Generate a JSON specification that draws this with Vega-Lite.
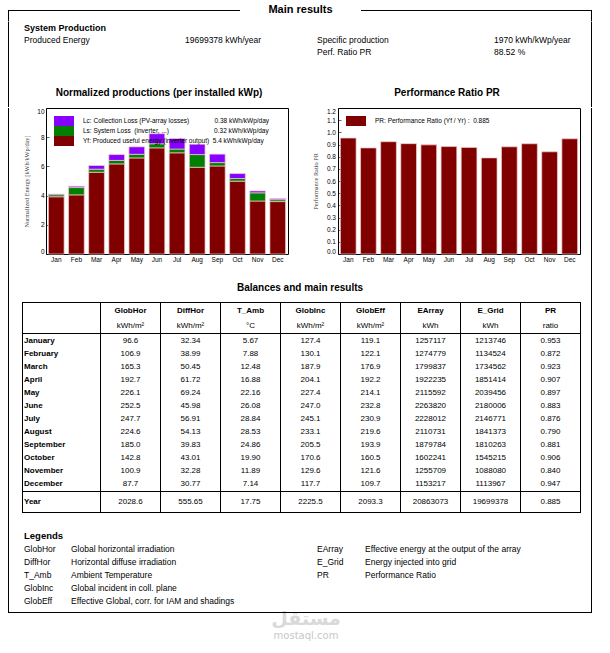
{
"$schema": "https://vega.github.io/schema/vega-lite/v6.json",
"padding": {"left": 7, "top": 4, "right": 0, "bottom": 0},
"background": "white",
"config": {
  "font": "Liberation Sans",
  "view": {"stroke": null},
  "text": {"font": "Liberation Sans", "color": "black", "fontSize": 8, "baseline": "middle"},
  "axis": {"labelFont": "Liberation Sans", "labelColor": "black", "labelFontSize": 6.5, "titleFont": "Liberation Serif", "titleFontWeight": "normal", "titleColor": "#444444", "titleFontSize": 6.3, "tickColor": "black", "tickWidth": 0.6, "domain": false, "grid": false, "labelOverlap": false},
  "legend": {"labelFont": "Liberation Sans", "labelColor": "black", "labelFontSize": 6.5},
  "title": {"font": "Liberation Sans", "fontSize": 10, "fontWeight": "bold", "color": "black"}
},
"datasets": {
  "one": [{}],
  "none": [],
  "summary": [
    {"row": 1, "col": "c1", "t": "System Production"},
    {"row": 2, "col": "c1", "t": "Produced Energy"},
    {"row": 2, "col": "c2", "t": "19699378 kWh/year"},
    {"row": 2, "col": "c3", "t": "Specific production"},
    {"row": 2, "col": "c4", "t": "1970 kWh/kWp/year"},
    {"row": 3, "col": "c3", "t": "Perf. Ratio PR"},
    {"row": 3, "col": "c4", "t": "88.52 %"}
  ],
  "norm": [
    {"month": "Jan", "Yf": 3.92, "Ls": 0.14, "Lc": 0.05},
    {"month": "Feb", "Yf": 4.05, "Ls": 0.50, "Lc": 0.09},
    {"month": "Mar", "Yf": 5.60, "Ls": 0.21, "Lc": 0.25},
    {"month": "Apr", "Yf": 6.17, "Ls": 0.24, "Lc": 0.40},
    {"month": "May", "Yf": 6.58, "Ls": 0.25, "Lc": 0.51},
    {"month": "Jun", "Yf": 7.27, "Ls": 0.28, "Lc": 0.69},
    {"month": "Jul", "Yf": 6.93, "Ls": 0.26, "Lc": 0.72},
    {"month": "Aug", "Yf": 5.94, "Ls": 0.87, "Lc": 0.71},
    {"month": "Sep", "Yf": 6.03, "Ls": 0.23, "Lc": 0.58},
    {"month": "Oct", "Yf": 4.99, "Ls": 0.18, "Lc": 0.34},
    {"month": "Nov", "Yf": 3.63, "Ls": 0.56, "Lc": 0.13},
    {"month": "Dec", "Yf": 3.59, "Ls": 0.13, "Lc": 0.08}
  ],
  "pr": [
    {"month": "Jan", "PR": 0.953}, {"month": "Feb", "PR": 0.872}, {"month": "Mar", "PR": 0.923},
    {"month": "Apr", "PR": 0.907}, {"month": "May", "PR": 0.897}, {"month": "Jun", "PR": 0.883},
    {"month": "Jul", "PR": 0.876}, {"month": "Aug", "PR": 0.790}, {"month": "Sep", "PR": 0.881},
    {"month": "Oct", "PR": 0.906}, {"month": "Nov", "PR": 0.840}, {"month": "Dec", "PR": 0.947}
  ],
  "cols": [
    {"col": "GlobHor", "name": "GlobHor", "unit": "kWh/m²"},
    {"col": "DiffHor", "name": "DiffHor", "unit": "kWh/m²"},
    {"col": "T_Amb", "name": "T_Amb", "unit": "°C"},
    {"col": "GlobInc", "name": "GlobInc", "unit": "kWh/m²"},
    {"col": "GlobEff", "name": "GlobEff", "unit": "kWh/m²"},
    {"col": "EArray", "name": "EArray", "unit": "kWh"},
    {"col": "E_Grid", "name": "E_Grid", "unit": "kWh"},
    {"col": "PR", "name": "PR", "unit": "ratio"}
  ],
  "months": [
    {"Month": "January", "GlobHor": "96.6", "DiffHor": "32.34", "T_Amb": "5.67", "GlobInc": "127.4", "GlobEff": "119.1", "EArray": "1257117", "E_Grid": "1213746", "PR": "0.953"},
    {"Month": "February", "GlobHor": "106.9", "DiffHor": "38.99", "T_Amb": "7.88", "GlobInc": "130.1", "GlobEff": "122.1", "EArray": "1274779", "E_Grid": "1134524", "PR": "0.872"},
    {"Month": "March", "GlobHor": "165.3", "DiffHor": "50.45", "T_Amb": "12.48", "GlobInc": "187.9", "GlobEff": "176.9", "EArray": "1799837", "E_Grid": "1734562", "PR": "0.923"},
    {"Month": "April", "GlobHor": "192.7", "DiffHor": "61.72", "T_Amb": "16.88", "GlobInc": "204.1", "GlobEff": "192.2", "EArray": "1922235", "E_Grid": "1851414", "PR": "0.907"},
    {"Month": "May", "GlobHor": "226.1", "DiffHor": "69.24", "T_Amb": "22.16", "GlobInc": "227.4", "GlobEff": "214.1", "EArray": "2115592", "E_Grid": "2039456", "PR": "0.897"},
    {"Month": "June", "GlobHor": "252.5", "DiffHor": "45.98", "T_Amb": "26.08", "GlobInc": "247.0", "GlobEff": "232.8", "EArray": "2263820", "E_Grid": "2180006", "PR": "0.883"},
    {"Month": "July", "GlobHor": "247.7", "DiffHor": "56.91", "T_Amb": "28.84", "GlobInc": "245.1", "GlobEff": "230.9", "EArray": "2228012", "E_Grid": "2146771", "PR": "0.876"},
    {"Month": "August", "GlobHor": "224.6", "DiffHor": "54.13", "T_Amb": "28.53", "GlobInc": "233.1", "GlobEff": "219.6", "EArray": "2110731", "E_Grid": "1841373", "PR": "0.790"},
    {"Month": "September", "GlobHor": "185.0", "DiffHor": "39.83", "T_Amb": "24.86", "GlobInc": "205.5", "GlobEff": "193.9", "EArray": "1879784", "E_Grid": "1810263", "PR": "0.881"},
    {"Month": "October", "GlobHor": "142.8", "DiffHor": "43.01", "T_Amb": "19.90", "GlobInc": "170.6", "GlobEff": "160.5", "EArray": "1602241", "E_Grid": "1545215", "PR": "0.906"},
    {"Month": "November", "GlobHor": "100.9", "DiffHor": "32.28", "T_Amb": "11.89", "GlobInc": "129.6", "GlobEff": "121.6", "EArray": "1255709", "E_Grid": "1088080", "PR": "0.840"},
    {"Month": "December", "GlobHor": "87.7", "DiffHor": "30.77", "T_Amb": "7.14", "GlobInc": "117.7", "GlobEff": "109.7", "EArray": "1153217", "E_Grid": "1113967", "PR": "0.947"}
  ],
  "year": [
    {"Month": "Year", "GlobHor": "2028.6", "DiffHor": "555.65", "T_Amb": "17.75", "GlobInc": "2225.5", "GlobEff": "2093.3", "EArray": "20863073", "E_Grid": "19699378", "PR": "0.885"}
  ],
  "legend": [
    {"row": 0, "side": "H", "abbr": "Legends"},
    {"row": 1, "side": "L", "abbr": "GlobHor", "desc": "Global horizontal irradiation"},
    {"row": 2, "side": "L", "abbr": "DiffHor", "desc": "Horizontal diffuse irradiation"},
    {"row": 3, "side": "L", "abbr": "T_Amb", "desc": "Ambient Temperature"},
    {"row": 4, "side": "L", "abbr": "GlobInc", "desc": "Global incident in coll. plane"},
    {"row": 5, "side": "L", "abbr": "GlobEff", "desc": "Effective Global, corr. for IAM and shadings"},
    {"row": 1, "side": "R", "abbr": "EArray", "desc": "Effective energy at the output of the array"},
    {"row": 2, "side": "R", "abbr": "E_Grid", "desc": "Energy injected into grid"},
    {"row": 3, "side": "R", "abbr": "PR", "desc": "Performance Ratio"}
  ]
},
"spacing": 0,
"resolve": {"scale": {"color": "independent"}, "legend": {"color": "independent"}},
"vconcat": [
  {"spacing": 0, "bounds": "flush", "hconcat": [
    {"width": 232, "height": 18, "data": {"name": "one"},
     "layer": [
       {"mark": {"type": "rule", "color": "black", "strokeWidth": 1},
        "encoding": {"y": {"datum": 0.63889, "type": "quantitative", "scale": {"domain": [0, 1]}, "axis": null}}},
       {"mark": {"type": "rule", "color": "black", "strokeWidth": 1},
        "encoding": {"x": {"datum": 0.002155, "type": "quantitative", "scale": {"domain": [0, 1]}, "axis": null},
                     "y": {"datum": 0.63889, "type": "quantitative", "scale": {"domain": [0, 1]}, "axis": null},
                     "y2": {"datum": 0.0278}}}
     ]},
    {"width": 121, "height": 18, "data": {"name": "one"},
     "mark": {"type": "text", "text": "Main results", "fontSize": 11, "fontWeight": "bold"},
     "encoding": {"y": {"datum": 0.63889, "type": "quantitative", "scale": {"domain": [0, 1]}, "axis": null}}},
    {"width": 231, "height": 18, "data": {"name": "one"},
     "layer": [
       {"mark": {"type": "rule", "color": "black", "strokeWidth": 1},
        "encoding": {"y": {"datum": 0.63889, "type": "quantitative", "scale": {"domain": [0, 1]}, "axis": null}}},
       {"mark": {"type": "rule", "color": "black", "strokeWidth": 1},
        "encoding": {"x": {"datum": 0.997835, "type": "quantitative", "scale": {"domain": [0, 1]}, "axis": null},
                     "y": {"datum": 0.63889, "type": "quantitative", "scale": {"domain": [0, 1]}, "axis": null},
                     "y2": {"datum": 0.0278}}}
     ]}
  ]},

  {"spacing": 0, "bounds": "flush", "hconcat": [
    {"width": 1, "height": 36, "data": {"name": "none"}, "mark": "point", "view": {"fill": "black"}},
    {"width": 15, "height": 36, "data": {"name": "none"}, "mark": "point"},
    {"width": 161, "height": 36, "data": {"name": "summary"}, "transform": [{"filter": "datum.col == 'c1'"}],
     "layer": [
       {"transform": [{"filter": "datum.row == 1"}], "mark": {"type": "text", "align": "left", "fontSize": 9, "fontWeight": "bold"},
        "encoding": {"x": {"value": 0}, "y": {"field": "row", "type": "ordinal", "scale": {"domain": [1, 2, 3]}, "axis": null}, "text": {"field": "t"}}},
       {"transform": [{"filter": "datum.row != 1"}], "mark": {"type": "text", "align": "left", "fontSize": 8.5},
        "encoding": {"x": {"value": 0}, "y": {"field": "row", "type": "ordinal", "scale": {"domain": [1, 2, 3]}, "axis": null}, "text": {"field": "t"}}}
     ]},
    {"width": 132, "height": 36, "data": {"name": "summary"}, "transform": [{"filter": "datum.col == 'c2'"}],
     "mark": {"type": "text", "align": "left", "fontSize": 8.5},
     "encoding": {"x": {"value": 0}, "y": {"field": "row", "type": "ordinal", "scale": {"domain": [1, 2, 3]}, "axis": null}, "text": {"field": "t"}}},
    {"width": 177, "height": 36, "data": {"name": "summary"}, "transform": [{"filter": "datum.col == 'c3'"}],
     "mark": {"type": "text", "align": "left", "fontSize": 8.5},
     "encoding": {"x": {"value": 0}, "y": {"field": "row", "type": "ordinal", "scale": {"domain": [1, 2, 3]}, "axis": null}, "text": {"field": "t"}}},
    {"width": 97, "height": 36, "data": {"name": "summary"}, "transform": [{"filter": "datum.col == 'c4'"}],
     "mark": {"type": "text", "align": "left", "fontSize": 8.5},
     "encoding": {"x": {"value": 0}, "y": {"field": "row", "type": "ordinal", "scale": {"domain": [1, 2, 3]}, "axis": null}, "text": {"field": "t"}}},
    {"width": 1, "height": 36, "data": {"name": "none"}, "mark": "point", "view": {"fill": "black"}}
  ]},

  {"spacing": 0, "bounds": "flush", "hconcat": [
    {"width": 1, "height": 49, "data": {"name": "none"}, "mark": "point", "view": {"fill": "black"}},
    {"width": 12, "height": 49, "data": {"name": "none"}, "mark": "point"},
    {"width": 276, "height": 49, "data": {"name": "one"},
     "mark": {"type": "text", "text": "Normalized productions (per installed kWp)", "fontSize": 10, "fontWeight": "bold"},
     "encoding": {"y": {"datum": 0.2857, "type": "quantitative", "scale": {"domain": [0, 1]}, "axis": null}}},
    {"width": 6, "height": 49, "data": {"name": "none"}, "mark": "point"},
    {"width": 288, "height": 49, "data": {"name": "one"},
     "mark": {"type": "text", "text": "Performance Ratio PR", "fontSize": 10, "fontWeight": "bold"},
     "encoding": {"y": {"datum": 0.2857, "type": "quantitative", "scale": {"domain": [0, 1]}, "axis": null}}},
    {"width": 1, "height": 49, "data": {"name": "none"}, "mark": "point", "view": {"fill": "black"}}
  ]},

  {"spacing": 0, "bounds": "flush",
   "resolve": {"scale": {"color": "independent"}, "legend": {"color": "independent"}},
   "hconcat": [
    {"width": 1, "height": 160, "data": {"name": "none"}, "mark": "point", "view": {"fill": "black"}},
    {"width": 37, "height": 146, "data": {"name": "none"}, "mark": "point"},
    {"width": 242, "height": 146, "view": {"stroke": "black", "strokeWidth": 1},
     "data": {"name": "norm"},
     "transform": [{"fold": ["Yf", "Ls", "Lc"], "as": ["comp", "val"]}],
     "mark": {"type": "bar", "stroke": "#f2cfcf", "strokeWidth": 0.7},
     "encoding": {
       "x": {"field": "month", "type": "ordinal", "sort": ["Jan", "Feb", "Mar", "Apr", "May", "Jun", "Jul", "Aug", "Sep", "Oct", "Nov", "Dec"],
             "scale": {"paddingInner": 0.22, "paddingOuter": 0.12},
             "axis": {"title": null, "labelAngle": 0, "tickSize": -3, "labelPadding": 5.5}},
       "y": {"field": "val", "type": "quantitative", "stack": "zero", "scale": {"domain": [0, 10], "nice": false},
             "axis": {"values": [0, 2, 4, 6, 8, 10], "title": "Normalized Energy [kWh/kWp/day]", "tickSize": -3, "labelPadding": 5, "titlePadding": 7, "labelFlush": true}},
       "color": {"field": "comp", "type": "nominal",
                 "scale": {"domain": ["Lc", "Ls", "Yf"], "range": ["#8800ff", "#008000", "#800000"]},
                 "legend": {"title": null, "orient": "top-left", "offset": 8, "padding": 0, "rowPadding": 0,
                            "symbolType": "M-2,-1H2V1H-2Z", "symbolSize": 100, "symbolOffset": 5, "labelOffset": 14,
                            "symbolStrokeWidth": 0, "labelLimit": 400,
                            "labelExpr": "datum.label === 'Lc' ? 'Lc: Collection Loss (PV-array losses)\u00a0\u00a0\u00a0\u00a0\u00a0\u00a0\u00a0\u00a0\u00a0\u00a0\u00a0\u00a0\u00a0\u00a00.38 kWh/kWp/day' : datum.label === 'Ls' ? 'Ls: System Loss\u00a0\u00a0(inverter, ...)\u00a0\u00a0\u00a0\u00a0\u00a0\u00a0\u00a0\u00a0\u00a0\u00a0\u00a0\u00a0\u00a0\u00a0\u00a0\u00a0\u00a0\u00a0\u00a0\u00a0\u00a0\u00a0\u00a0\u00a0\u00a00.32 kWh/kWp/day' : 'Yf: Produced useful energy (inverter output)\u00a0\u00a05.4 kWh/kWp/day'"}},
       "order": {"field": "comp", "sort": "descending"}
     }},
    {"width": 50, "height": 146, "data": {"name": "none"}, "mark": "point"},
    {"width": 242, "height": 146, "view": {"stroke": "black", "strokeWidth": 1},
     "data": {"name": "pr"},
     "mark": {"type": "bar", "stroke": "#f2cfcf", "strokeWidth": 0.7},
     "encoding": {
       "x": {"field": "month", "type": "ordinal", "sort": ["Jan", "Feb", "Mar", "Apr", "May", "Jun", "Jul", "Aug", "Sep", "Oct", "Nov", "Dec"],
             "scale": {"paddingInner": 0.22, "paddingOuter": 0.12},
             "axis": {"title": null, "labelAngle": 0, "tickSize": -3, "labelPadding": 5.5}},
       "y": {"field": "PR", "type": "quantitative", "scale": {"domain": [0, 1.2], "nice": false},
             "axis": {"values": [0, 0.1, 0.2, 0.3, 0.4, 0.5, 0.6, 0.7, 0.8, 0.9, 1.0, 1.1, 1.2], "format": ".1f", "title": "Performance Ratio PR", "tickSize": -3, "labelPadding": 5.5, "titlePadding": 8, "labelFlush": true}},
       "color": {"datum": "PR", "type": "nominal", "scale": {"range": ["#800000"]},
                 "legend": {"title": null, "orient": "top-left", "offset": 8, "padding": 0, "rowPadding": 0,
                            "symbolType": "M-2,-1H2V1H-2Z", "symbolSize": 100, "symbolOffset": 5, "labelOffset": 14,
                            "symbolStrokeWidth": 0, "labelLimit": 400,
                            "labelExpr": "'PR: Performance Ratio (Yf / Yr) :\u00a0\u00a00.885'"}}
     }},
    {"width": 11, "height": 146, "data": {"name": "none"}, "mark": "point"},
    {"width": 1, "height": 160, "data": {"name": "none"}, "mark": "point", "view": {"fill": "black"}}
  ]},

  {"spacing": 0, "bounds": "flush", "hconcat": [
    {"width": 1, "height": 34, "data": {"name": "none"}, "mark": "point", "view": {"fill": "black"}},
    {"width": 200, "height": 34, "data": {"name": "none"}, "mark": "point"},
    {"width": 182, "height": 34, "data": {"name": "one"},
     "mark": {"type": "text", "text": "Balances and main results", "fontSize": 10, "fontWeight": "bold"},
     "encoding": {"y": {"datum": 0.41176, "type": "quantitative", "scale": {"domain": [0, 1]}, "axis": null}}},
    {"width": 200, "height": 34, "data": {"name": "none"}, "mark": "point"},
    {"width": 1, "height": 34, "data": {"name": "none"}, "mark": "point", "view": {"fill": "black"}}
  ]},

  {"spacing": 0, "bounds": "flush", "hconcat": [
    {"width": 1, "height": 1, "data": {"name": "none"}, "mark": "point", "view": {"fill": "black"}},
    {"width": 13, "height": 1, "data": {"name": "none"}, "mark": "point"},
    {"width": 559, "height": 1, "data": {"name": "none"}, "mark": "point", "view": {"fill": "black"}},
    {"width": 10, "height": 1, "data": {"name": "none"}, "mark": "point"},
    {"width": 1, "height": 1, "data": {"name": "none"}, "mark": "point", "view": {"fill": "black"}}
  ]},

  {"spacing": 0, "bounds": "flush", "hconcat": [
    {"width": 1, "height": 30, "data": {"name": "none"}, "mark": "point", "view": {"fill": "black"}},
    {"width": 13, "height": 30, "data": {"name": "none"}, "mark": "point"},
    {"width": 1, "height": 30, "data": {"name": "none"}, "mark": "point", "view": {"fill": "black"}},
    {"width": 77, "height": 30, "data": {"name": "none"}, "mark": "point"},
    {"width": 1, "height": 30, "data": {"name": "none"}, "mark": "point", "view": {"fill": "black"}},
    {"width": 59, "height": 30, "data": {"name": "cols"}, "transform": [{"filter": "datum.col == 'GlobHor'"}],
     "layer": [
       {"mark": {"type": "text", "fontWeight": "bold"}, "encoding": {"y": {"datum": "name", "type": "nominal", "scale": {"domain": ["name", "unit"]}, "axis": null}, "text": {"field": "name"}}},
       {"mark": {"type": "text"}, "encoding": {"y": {"datum": "unit", "type": "nominal", "scale": {"domain": ["name", "unit"]}, "axis": null}, "text": {"field": "unit"}}}
     ]},
    {"width": 1, "height": 30, "data": {"name": "none"}, "mark": "point", "view": {"fill": "black"}},
    {"width": 59, "height": 30, "data": {"name": "cols"}, "transform": [{"filter": "datum.col == 'DiffHor'"}],
     "layer": [
       {"mark": {"type": "text", "fontWeight": "bold"}, "encoding": {"y": {"datum": "name", "type": "nominal", "scale": {"domain": ["name", "unit"]}, "axis": null}, "text": {"field": "name"}}},
       {"mark": {"type": "text"}, "encoding": {"y": {"datum": "unit", "type": "nominal", "scale": {"domain": ["name", "unit"]}, "axis": null}, "text": {"field": "unit"}}}
     ]},
    {"width": 1, "height": 30, "data": {"name": "none"}, "mark": "point", "view": {"fill": "black"}},
    {"width": 59, "height": 30, "data": {"name": "cols"}, "transform": [{"filter": "datum.col == 'T_Amb'"}],
     "layer": [
       {"mark": {"type": "text", "fontWeight": "bold"}, "encoding": {"y": {"datum": "name", "type": "nominal", "scale": {"domain": ["name", "unit"]}, "axis": null}, "text": {"field": "name"}}},
       {"mark": {"type": "text"}, "encoding": {"y": {"datum": "unit", "type": "nominal", "scale": {"domain": ["name", "unit"]}, "axis": null}, "text": {"field": "unit"}}}
     ]},
    {"width": 1, "height": 30, "data": {"name": "none"}, "mark": "point", "view": {"fill": "black"}},
    {"width": 59, "height": 30, "data": {"name": "cols"}, "transform": [{"filter": "datum.col == 'GlobInc'"}],
     "layer": [
       {"mark": {"type": "text", "fontWeight": "bold"}, "encoding": {"y": {"datum": "name", "type": "nominal", "scale": {"domain": ["name", "unit"]}, "axis": null}, "text": {"field": "name"}}},
       {"mark": {"type": "text"}, "encoding": {"y": {"datum": "unit", "type": "nominal", "scale": {"domain": ["name", "unit"]}, "axis": null}, "text": {"field": "unit"}}}
     ]},
    {"width": 1, "height": 30, "data": {"name": "none"}, "mark": "point", "view": {"fill": "black"}},
    {"width": 59, "height": 30, "data": {"name": "cols"}, "transform": [{"filter": "datum.col == 'GlobEff'"}],
     "layer": [
       {"mark": {"type": "text", "fontWeight": "bold"}, "encoding": {"y": {"datum": "name", "type": "nominal", "scale": {"domain": ["name", "unit"]}, "axis": null}, "text": {"field": "name"}}},
       {"mark": {"type": "text"}, "encoding": {"y": {"datum": "unit", "type": "nominal", "scale": {"domain": ["name", "unit"]}, "axis": null}, "text": {"field": "unit"}}}
     ]},
    {"width": 1, "height": 30, "data": {"name": "none"}, "mark": "point", "view": {"fill": "black"}},
    {"width": 59, "height": 30, "data": {"name": "cols"}, "transform": [{"filter": "datum.col == 'EArray'"}],
     "layer": [
       {"mark": {"type": "text", "fontWeight": "bold"}, "encoding": {"y": {"datum": "name", "type": "nominal", "scale": {"domain": ["name", "unit"]}, "axis": null}, "text": {"field": "name"}}},
       {"mark": {"type": "text"}, "encoding": {"y": {"datum": "unit", "type": "nominal", "scale": {"domain": ["name", "unit"]}, "axis": null}, "text": {"field": "unit"}}}
     ]},
    {"width": 1, "height": 30, "data": {"name": "none"}, "mark": "point", "view": {"fill": "black"}},
    {"width": 59, "height": 30, "data": {"name": "cols"}, "transform": [{"filter": "datum.col == 'E_Grid'"}],
     "layer": [
       {"mark": {"type": "text", "fontWeight": "bold"}, "encoding": {"y": {"datum": "name", "type": "nominal", "scale": {"domain": ["name", "unit"]}, "axis": null}, "text": {"field": "name"}}},
       {"mark": {"type": "text"}, "encoding": {"y": {"datum": "unit", "type": "nominal", "scale": {"domain": ["name", "unit"]}, "axis": null}, "text": {"field": "unit"}}}
     ]},
    {"width": 1, "height": 30, "data": {"name": "none"}, "mark": "point", "view": {"fill": "black"}},
    {"width": 59, "height": 30, "data": {"name": "cols"}, "transform": [{"filter": "datum.col == 'PR'"}],
     "layer": [
       {"mark": {"type": "text", "fontWeight": "bold"}, "encoding": {"y": {"datum": "name", "type": "nominal", "scale": {"domain": ["name", "unit"]}, "axis": null}, "text": {"field": "name"}}},
       {"mark": {"type": "text"}, "encoding": {"y": {"datum": "unit", "type": "nominal", "scale": {"domain": ["name", "unit"]}, "axis": null}, "text": {"field": "unit"}}}
     ]},
    {"width": 1, "height": 30, "data": {"name": "none"}, "mark": "point", "view": {"fill": "black"}},
    {"width": 10, "height": 30, "data": {"name": "none"}, "mark": "point"},
    {"width": 1, "height": 30, "data": {"name": "none"}, "mark": "point", "view": {"fill": "black"}}
  ]},

  {"spacing": 0, "bounds": "flush", "hconcat": [
    {"width": 1, "height": 1, "data": {"name": "none"}, "mark": "point", "view": {"fill": "black"}},
    {"width": 13, "height": 1, "data": {"name": "none"}, "mark": "point"},
    {"width": 559, "height": 1, "data": {"name": "none"}, "mark": "point", "view": {"fill": "black"}},
    {"width": 10, "height": 1, "data": {"name": "none"}, "mark": "point"},
    {"width": 1, "height": 1, "data": {"name": "none"}, "mark": "point", "view": {"fill": "black"}}
  ]},

  {"spacing": 0, "bounds": "flush", "hconcat": [
    {"width": 1, "height": 157, "data": {"name": "none"}, "mark": "point", "view": {"fill": "black"}},
    {"width": 13, "height": 157, "data": {"name": "none"}, "mark": "point"},
    {"width": 1, "height": 157, "data": {"name": "none"}, "mark": "point", "view": {"fill": "black"}},
    {"width": 77, "height": 157, "data": {"name": "months"},
     "mark": {"type": "text", "align": "left", "dx": 1, "fontWeight": "bold"},
     "encoding": {"x": {"value": 0}, "y": {"field": "Month", "type": "nominal", "sort": ["January", "February", "March", "April", "May", "June", "July", "August", "September", "October", "November", "December"], "axis": null}, "text": {"field": "Month"}}},
    {"width": 1, "height": 157, "data": {"name": "none"}, "mark": "point", "view": {"fill": "black"}},
    {"width": 59, "height": 157, "data": {"name": "months"}, "mark": "text",
     "encoding": {"y": {"field": "Month", "type": "nominal", "sort": ["January", "February", "March", "April", "May", "June", "July", "August", "September", "October", "November", "December"], "axis": null}, "text": {"field": "GlobHor"}}},
    {"width": 1, "height": 157, "data": {"name": "none"}, "mark": "point", "view": {"fill": "black"}},
    {"width": 59, "height": 157, "data": {"name": "months"}, "mark": "text",
     "encoding": {"y": {"field": "Month", "type": "nominal", "sort": ["January", "February", "March", "April", "May", "June", "July", "August", "September", "October", "November", "December"], "axis": null}, "text": {"field": "DiffHor"}}},
    {"width": 1, "height": 157, "data": {"name": "none"}, "mark": "point", "view": {"fill": "black"}},
    {"width": 59, "height": 157, "data": {"name": "months"}, "mark": "text",
     "encoding": {"y": {"field": "Month", "type": "nominal", "sort": ["January", "February", "March", "April", "May", "June", "July", "August", "September", "October", "November", "December"], "axis": null}, "text": {"field": "T_Amb"}}},
    {"width": 1, "height": 157, "data": {"name": "none"}, "mark": "point", "view": {"fill": "black"}},
    {"width": 59, "height": 157, "data": {"name": "months"}, "mark": "text",
     "encoding": {"y": {"field": "Month", "type": "nominal", "sort": ["January", "February", "March", "April", "May", "June", "July", "August", "September", "October", "November", "December"], "axis": null}, "text": {"field": "GlobInc"}}},
    {"width": 1, "height": 157, "data": {"name": "none"}, "mark": "point", "view": {"fill": "black"}},
    {"width": 59, "height": 157, "data": {"name": "months"}, "mark": "text",
     "encoding": {"y": {"field": "Month", "type": "nominal", "sort": ["January", "February", "March", "April", "May", "June", "July", "August", "September", "October", "November", "December"], "axis": null}, "text": {"field": "GlobEff"}}},
    {"width": 1, "height": 157, "data": {"name": "none"}, "mark": "point", "view": {"fill": "black"}},
    {"width": 59, "height": 157, "data": {"name": "months"}, "mark": "text",
     "encoding": {"y": {"field": "Month", "type": "nominal", "sort": ["January", "February", "March", "April", "May", "June", "July", "August", "September", "October", "November", "December"], "axis": null}, "text": {"field": "EArray"}}},
    {"width": 1, "height": 157, "data": {"name": "none"}, "mark": "point", "view": {"fill": "black"}},
    {"width": 59, "height": 157, "data": {"name": "months"}, "mark": "text",
     "encoding": {"y": {"field": "Month", "type": "nominal", "sort": ["January", "February", "March", "April", "May", "June", "July", "August", "September", "October", "November", "December"], "axis": null}, "text": {"field": "E_Grid"}}},
    {"width": 1, "height": 157, "data": {"name": "none"}, "mark": "point", "view": {"fill": "black"}},
    {"width": 59, "height": 157, "data": {"name": "months"}, "mark": "text",
     "encoding": {"y": {"field": "Month", "type": "nominal", "sort": ["January", "February", "March", "April", "May", "June", "July", "August", "September", "October", "November", "December"], "axis": null}, "text": {"field": "PR"}}},
    {"width": 1, "height": 157, "data": {"name": "none"}, "mark": "point", "view": {"fill": "black"}},
    {"width": 10, "height": 157, "data": {"name": "none"}, "mark": "point"},
    {"width": 1, "height": 157, "data": {"name": "none"}, "mark": "point", "view": {"fill": "black"}}
  ]},

  {"spacing": 0, "bounds": "flush", "hconcat": [
    {"width": 1, "height": 1, "data": {"name": "none"}, "mark": "point", "view": {"fill": "black"}},
    {"width": 13, "height": 1, "data": {"name": "none"}, "mark": "point"},
    {"width": 559, "height": 1, "data": {"name": "none"}, "mark": "point", "view": {"fill": "black"}},
    {"width": 10, "height": 1, "data": {"name": "none"}, "mark": "point"},
    {"width": 1, "height": 1, "data": {"name": "none"}, "mark": "point", "view": {"fill": "black"}}
  ]},

  {"spacing": 0, "bounds": "flush", "hconcat": [
    {"width": 1, "height": 20, "data": {"name": "none"}, "mark": "point", "view": {"fill": "black"}},
    {"width": 13, "height": 20, "data": {"name": "none"}, "mark": "point"},
    {"width": 1, "height": 20, "data": {"name": "none"}, "mark": "point", "view": {"fill": "black"}},
    {"width": 77, "height": 20, "data": {"name": "year"},
     "mark": {"type": "text", "align": "left", "dx": 1, "fontWeight": "bold"},
     "encoding": {"x": {"value": 0}, "text": {"field": "Month"}}},
    {"width": 1, "height": 20, "data": {"name": "none"}, "mark": "point", "view": {"fill": "black"}},
    {"width": 59, "height": 20, "data": {"name": "year"}, "mark": "text", "encoding": {"text": {"field": "GlobHor"}}},
    {"width": 1, "height": 20, "data": {"name": "none"}, "mark": "point", "view": {"fill": "black"}},
    {"width": 59, "height": 20, "data": {"name": "year"}, "mark": "text", "encoding": {"text": {"field": "DiffHor"}}},
    {"width": 1, "height": 20, "data": {"name": "none"}, "mark": "point", "view": {"fill": "black"}},
    {"width": 59, "height": 20, "data": {"name": "year"}, "mark": "text", "encoding": {"text": {"field": "T_Amb"}}},
    {"width": 1, "height": 20, "data": {"name": "none"}, "mark": "point", "view": {"fill": "black"}},
    {"width": 59, "height": 20, "data": {"name": "year"}, "mark": "text", "encoding": {"text": {"field": "GlobInc"}}},
    {"width": 1, "height": 20, "data": {"name": "none"}, "mark": "point", "view": {"fill": "black"}},
    {"width": 59, "height": 20, "data": {"name": "year"}, "mark": "text", "encoding": {"text": {"field": "GlobEff"}}},
    {"width": 1, "height": 20, "data": {"name": "none"}, "mark": "point", "view": {"fill": "black"}},
    {"width": 59, "height": 20, "data": {"name": "year"}, "mark": "text", "encoding": {"text": {"field": "EArray"}}},
    {"width": 1, "height": 20, "data": {"name": "none"}, "mark": "point", "view": {"fill": "black"}},
    {"width": 59, "height": 20, "data": {"name": "year"}, "mark": "text", "encoding": {"text": {"field": "E_Grid"}}},
    {"width": 1, "height": 20, "data": {"name": "none"}, "mark": "point", "view": {"fill": "black"}},
    {"width": 59, "height": 20, "data": {"name": "year"}, "mark": "text", "encoding": {"text": {"field": "PR"}}},
    {"width": 1, "height": 20, "data": {"name": "none"}, "mark": "point", "view": {"fill": "black"}},
    {"width": 10, "height": 20, "data": {"name": "none"}, "mark": "point"},
    {"width": 1, "height": 20, "data": {"name": "none"}, "mark": "point", "view": {"fill": "black"}}
  ]},

  {"spacing": 0, "bounds": "flush", "hconcat": [
    {"width": 1, "height": 1, "data": {"name": "none"}, "mark": "point", "view": {"fill": "black"}},
    {"width": 13, "height": 1, "data": {"name": "none"}, "mark": "point"},
    {"width": 559, "height": 1, "data": {"name": "none"}, "mark": "point", "view": {"fill": "black"}},
    {"width": 10, "height": 1, "data": {"name": "none"}, "mark": "point"},
    {"width": 1, "height": 1, "data": {"name": "none"}, "mark": "point", "view": {"fill": "black"}}
  ]},

  {"spacing": 0, "bounds": "flush", "hconcat": [
    {"width": 1, "height": 16, "data": {"name": "none"}, "mark": "point", "view": {"fill": "black"}},
    {"width": 582, "height": 16, "data": {"name": "none"}, "mark": "point"},
    {"width": 1, "height": 16, "data": {"name": "none"}, "mark": "point", "view": {"fill": "black"}}
  ]},

  {"spacing": 0, "bounds": "flush", "hconcat": [
    {"width": 1, "height": 78, "data": {"name": "none"}, "mark": "point", "view": {"fill": "black"}},
    {"width": 15, "height": 78, "data": {"name": "none"}, "mark": "point"},
    {"width": 47, "height": 78, "data": {"name": "legend"},
     "layer": [
       {"transform": [{"filter": "datum.side == 'H'"}], "mark": {"type": "text", "align": "left", "fontSize": 9.5, "fontWeight": "bold"},
        "encoding": {"x": {"value": 0}, "y": {"field": "row", "type": "ordinal", "scale": {"domain": [0, 1, 2, 3, 4, 5]}, "axis": null}, "text": {"field": "abbr"}}},
       {"transform": [{"filter": "datum.side == 'L'"}], "mark": {"type": "text", "align": "left", "fontSize": 8.5},
        "encoding": {"x": {"value": 0}, "y": {"field": "row", "type": "ordinal", "scale": {"domain": [0, 1, 2, 3, 4, 5]}, "axis": null}, "text": {"field": "abbr"}}}
     ]},
    {"width": 246, "height": 78, "data": {"name": "legend"}, "transform": [{"filter": "datum.side == 'L'"}],
     "mark": {"type": "text", "align": "left", "fontSize": 8.5},
     "encoding": {"x": {"value": 0}, "y": {"field": "row", "type": "ordinal", "scale": {"domain": [0, 1, 2, 3, 4, 5]}, "axis": null}, "text": {"field": "desc"}}},
    {"width": 48, "height": 78, "data": {"name": "legend"}, "transform": [{"filter": "datum.side == 'R'"}],
     "mark": {"type": "text", "align": "left", "fontSize": 8.5},
     "encoding": {"x": {"value": 0}, "y": {"field": "row", "type": "ordinal", "scale": {"domain": [0, 1, 2, 3, 4, 5]}, "axis": null}, "text": {"field": "abbr"}}},
    {"width": 226, "height": 78, "data": {"name": "legend"}, "transform": [{"filter": "datum.side == 'R'"}],
     "mark": {"type": "text", "align": "left", "fontSize": 8.5},
     "encoding": {"x": {"value": 0}, "y": {"field": "row", "type": "ordinal", "scale": {"domain": [0, 1, 2, 3, 4, 5]}, "axis": null}, "text": {"field": "desc"}}},
    {"width": 1, "height": 78, "data": {"name": "none"}, "mark": "point", "view": {"fill": "black"}}
  ]},

  {"spacing": 0, "bounds": "flush", "hconcat": [
    {"width": 1, "height": 6, "data": {"name": "none"}, "mark": "point", "view": {"fill": "black"}},
    {"width": 582, "height": 40, "data": {"name": "one"},
     "layer": [
       {"mark": {"type": "text", "text": "مستقل", "font": "DejaVu Sans", "fontSize": 19, "fontWeight": "bold", "color": "#d9d9d9", "dx": 6},
        "encoding": {"y": {"datum": 0.7, "type": "quantitative", "scale": {"domain": [0, 1]}, "axis": null}}},
       {"mark": {"type": "text", "text": "mostaql.com", "font": "DejaVu Sans", "fontSize": 10, "color": "#c8c8c8", "dx": 6},
        "encoding": {"y": {"datum": 0.27, "type": "quantitative", "scale": {"domain": [0, 1]}, "axis": null}}},
       {"mark": {"type": "rule", "color": "black", "strokeWidth": 1},
        "encoding": {"y": {"datum": 0.8625, "type": "quantitative", "scale": {"domain": [0, 1]}, "axis": null}}}
     ]},
    {"width": 1, "height": 6, "data": {"name": "none"}, "mark": "point", "view": {"fill": "black"}}
  ]}
]
}
